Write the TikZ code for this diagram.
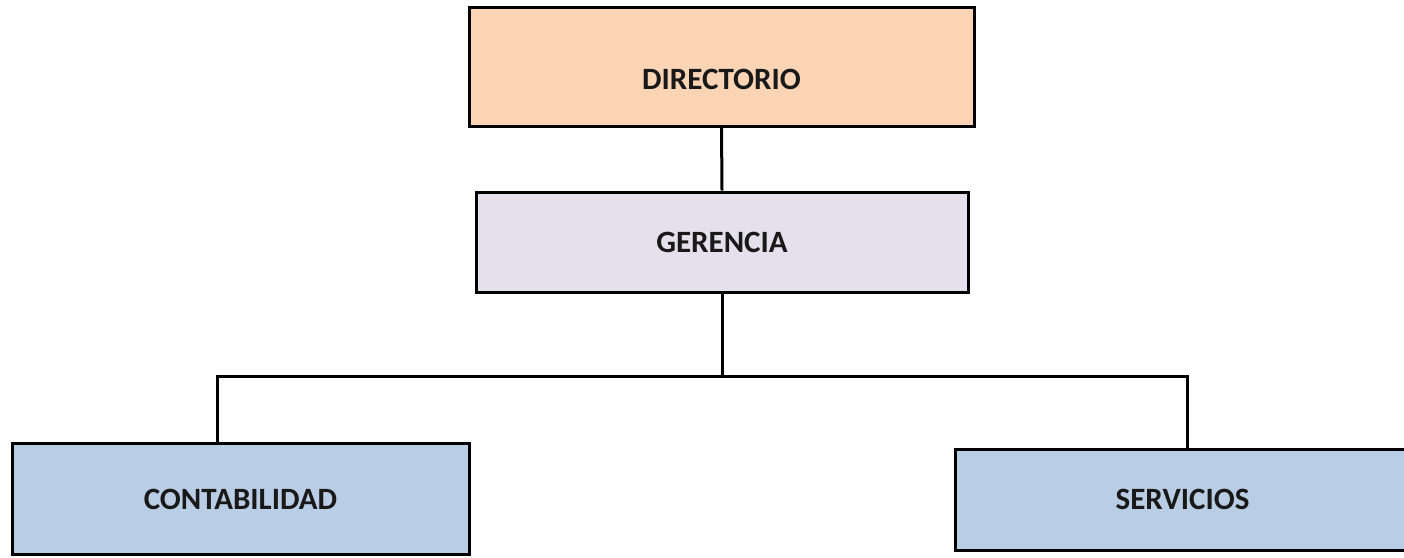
\documentclass[tikz,border=0pt]{standalone}
\usepackage{fontspec}
\setmainfont{Carlito}
\definecolor{peach}{HTML}{FBD4B5}
\definecolor{lavender}{HTML}{E5E0EC}
\definecolor{paleblue}{HTML}{B9CDE5}
\tikzset{
  lbltext/.style={font=\fontsize{31}{34}\selectfont\bfseries, text=black!90},
  orgbox/.style={draw=black, line width=3pt, rectangle, inner sep=0pt, lbltext},
  link/.style={draw=black, line width=3pt}
}
\begin{document}
\begin{tikzpicture}[x=1pt,y=-1pt]
\useasboundingbox (0,0) rectangle (1404,557);
\fill[white] (0,0) rectangle (1404,557);
\begin{scope}
\clip (0,0) rectangle (1404,557);
\node[orgbox, fill=peach, minimum width=505pt, minimum height=119pt,
  label={[lbltext, yshift=-13pt]center:DIRECTORIO}]
  (dir) at (721.5,66.5) {};
\node[orgbox, fill=lavender, minimum width=492pt, minimum height=100pt]
  (ger) at (722,242) {GERENCIA};
\node[orgbox, fill=paleblue, minimum width=457pt, minimum height=111pt]
  (con) at (240.5,499) {CONTABILIDAD};
\node[orgbox, fill=paleblue, minimum width=455pt, minimum height=101pt]
  (ser) at (1182.5,499.5) {SERVICIOS};
\coordinate (hub) at (722,376);
\draw[link] (dir.south) -- (ger.north);
\draw[link] (ger.south) -- (hub);
\draw[link] (hub) -| (con.north -| 217,0);
\draw[link] (hub) -| (ser.north -| 1187,0);
\end{scope}
\end{tikzpicture}
\end{document}
